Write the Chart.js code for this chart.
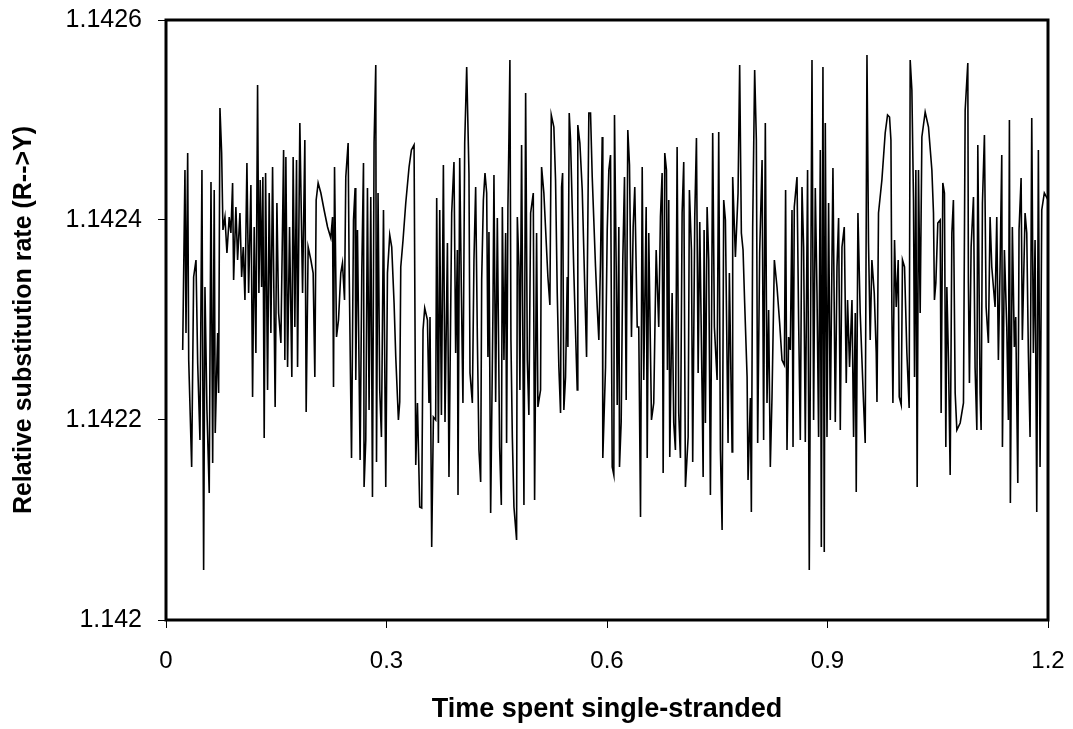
<!DOCTYPE html>
<html>
<head>
<meta charset="utf-8">
<script src="https://cdn.jsdelivr.net/npm/chart.js@4.4.1/dist/chart.umd.min.js"></script>
<style>
  html, body { margin: 0; padding: 0; background: #fff; }
  canvas { display: block; }
</style>
</head>
<body>
<canvas id="rateChart" width="1073" height="729"></canvas>
<script>
// Time spent single-stranded (x)
const timeSpent = [
  0.0227, 0.0258, 0.0272, 0.0295, 0.0309, 0.0349, 0.0376, 0.0408, 0.0431, 0.0462,
  0.0489, 0.0512, 0.0530, 0.0557, 0.0588, 0.0612, 0.0635, 0.0656, 0.0670, 0.0703,
  0.0716, 0.0734, 0.0757, 0.0775, 0.0802, 0.0829, 0.0860, 0.0883, 0.0906, 0.0920,
  0.0951, 0.0974, 0.1006, 0.1029, 0.1051, 0.1074, 0.1101, 0.1124, 0.1155, 0.1178,
  0.1200, 0.1223, 0.1246, 0.1264, 0.1282, 0.1301, 0.1318, 0.1336, 0.1355, 0.1382,
  0.1404, 0.1427, 0.1450, 0.1468, 0.1485, 0.1509, 0.1532, 0.1563, 0.1600, 0.1617,
  0.1631, 0.1654, 0.1681, 0.1712, 0.1730, 0.1753, 0.1776, 0.1790, 0.1821, 0.1858,
  0.1889, 0.1907, 0.1934, 0.1971, 0.2002, 0.2025, 0.2043, 0.2070, 0.2107, 0.2151,
  0.2198, 0.2242, 0.2266, 0.2279, 0.2293, 0.2320, 0.2347, 0.2378, 0.2401, 0.2429,
  0.2446, 0.2478, 0.2491, 0.2524, 0.2551, 0.2573, 0.2582, 0.2605, 0.2641, 0.2664,
  0.2687, 0.2695, 0.2718, 0.2741, 0.2763, 0.2786, 0.2809, 0.2831, 0.2854, 0.2864,
  0.2885, 0.2908, 0.2931, 0.2959, 0.2990, 0.3013, 0.3044, 0.3071, 0.3103, 0.3126,
  0.3162, 0.3180, 0.3194, 0.3225, 0.3262, 0.3307, 0.3339, 0.3375, 0.3398, 0.3421,
  0.3452, 0.3479, 0.3497, 0.3520, 0.3557, 0.3578, 0.3592, 0.3615, 0.3638, 0.3669,
  0.3683, 0.3706, 0.3724, 0.3747, 0.3774, 0.3796, 0.3829, 0.3850, 0.3887, 0.3918,
  0.3941, 0.3964, 0.3973, 0.3996, 0.4019, 0.4040, 0.4064, 0.4091, 0.4122, 0.4136,
  0.4168, 0.4190, 0.4213, 0.4236, 0.4258, 0.4281, 0.4295, 0.4318, 0.4340, 0.4363,
  0.4380, 0.4394, 0.4417, 0.4448, 0.4462, 0.4485, 0.4508, 0.4539, 0.4562, 0.4576,
  0.4598, 0.4621, 0.4634, 0.4652, 0.4666, 0.4679, 0.4693, 0.4712, 0.4734, 0.4770,
  0.4780, 0.4802, 0.4815, 0.4838, 0.4870, 0.4893, 0.4916, 0.4937, 0.4961, 0.4997,
  0.5015, 0.5042, 0.5060, 0.5096, 0.5110, 0.5141, 0.5196, 0.5223, 0.5242, 0.5277,
  0.5300, 0.5323, 0.5345, 0.5368, 0.5382, 0.5396, 0.5413, 0.5436, 0.5459, 0.5468,
  0.5486, 0.5504, 0.5549, 0.5595, 0.5603, 0.5631, 0.5663, 0.5722, 0.5753, 0.5776,
  0.5799, 0.5844, 0.5867, 0.5889, 0.5912, 0.5935, 0.5943, 0.5980, 0.6003, 0.6025,
  0.6048, 0.6071, 0.6093, 0.6102, 0.6125, 0.6139, 0.6161, 0.6170, 0.6193, 0.6215,
  0.6238, 0.6261, 0.6283, 0.6306, 0.6333, 0.6356, 0.6378, 0.6411, 0.6432, 0.6456,
  0.6479, 0.6500, 0.6533, 0.6547, 0.6568, 0.6605, 0.6636, 0.6669, 0.6704, 0.6727,
  0.6750, 0.6764, 0.6786, 0.6809, 0.6822, 0.6840, 0.6854, 0.6886, 0.6908, 0.6931,
  0.6954, 0.6976, 0.6999, 0.7022, 0.7044, 0.7067, 0.7104, 0.7121, 0.7149, 0.7166,
  0.7194, 0.7217, 0.7240, 0.7262, 0.7294, 0.7308, 0.7321, 0.7339, 0.7362, 0.7384,
  0.7407, 0.7420, 0.7438, 0.7461, 0.7498, 0.7520, 0.7543, 0.7566, 0.7588, 0.7611,
  0.7647, 0.7665, 0.7702, 0.7710, 0.7747, 0.7783, 0.7805, 0.7828, 0.7851, 0.7873,
  0.7906, 0.7919, 0.7951, 0.7964, 0.7982, 0.8009, 0.8032, 0.8050, 0.8077, 0.8110,
  0.8131, 0.8154, 0.8177, 0.8199, 0.8222, 0.8245, 0.8277, 0.8313, 0.8349, 0.8381,
  0.8413, 0.8430, 0.8449, 0.8471, 0.8494, 0.8517, 0.8531, 0.8548, 0.8585, 0.8607,
  0.8630, 0.8653, 0.8675, 0.8698, 0.8729, 0.8752, 0.8789, 0.8811, 0.8834, 0.8857,
  0.8879, 0.8902, 0.8916, 0.8938, 0.8956, 0.8970, 0.8993, 0.9015, 0.9038, 0.9074,
  0.9106, 0.9129, 0.9151, 0.9174, 0.9197, 0.9228, 0.9255, 0.9273, 0.9300, 0.9333,
  0.9355, 0.9378, 0.9391, 0.9414, 0.9445, 0.9490, 0.9513, 0.9537, 0.9558, 0.9581,
  0.9604, 0.9636, 0.9663, 0.9673, 0.9694, 0.9740, 0.9785, 0.9817, 0.9844, 0.9863,
  0.9876, 0.9890, 0.9912, 0.9935, 0.9962, 0.9976, 1.0003, 1.0020, 1.0048, 1.0080,
  1.0111, 1.0125, 1.0148, 1.0170, 1.0184, 1.0202, 1.0220, 1.0238, 1.0261, 1.0284,
  1.0329, 1.0374, 1.0420, 1.0442, 1.0455, 1.0474, 1.0501, 1.0533, 1.0546, 1.0569,
  1.0591, 1.0610, 1.0624, 1.0646, 1.0669, 1.0692, 1.0713, 1.0737, 1.0760, 1.0805,
  1.0850, 1.0873, 1.0909, 1.0917, 1.0931, 1.0954, 1.0986, 1.1008, 1.1032, 1.1045,
  1.1076, 1.1090, 1.1108, 1.1135, 1.1158, 1.1189, 1.1212, 1.1235, 1.1280, 1.1303,
  1.1325, 1.1348, 1.1371, 1.1380, 1.1407, 1.1439, 1.1461, 1.1475, 1.1488, 1.1515,
  1.1542, 1.1561, 1.1589, 1.1606, 1.1634, 1.1651, 1.1688, 1.1711, 1.1733, 1.1756,
  1.1779, 1.1801, 1.1824, 1.1847, 1.1869, 1.1892, 1.1915, 1.1950, 1.2000
];

// Relative substitution rate R-->Y (y)
const relRate = [
  1.14227, 1.14245, 1.142287, 1.142467, 1.14226, 1.142153, 1.142343, 1.14236, 1.142257, 1.14218,
  1.14245, 1.14205, 1.142333, 1.14221, 1.142127, 1.142438, 1.142157, 1.14243, 1.142187, 1.142287,
  1.142227, 1.142512, 1.142467, 1.14239, 1.142403, 1.142367, 1.142403, 1.142387, 1.142437, 1.14234,
  1.142413, 1.14236, 1.142407, 1.142343, 1.142373, 1.14232, 1.142457, 1.142327, 1.142435, 1.142223,
  1.142393, 1.142267, 1.142535, 1.142327, 1.14244, 1.142333, 1.142443, 1.142182, 1.142447, 1.14223,
  1.142427, 1.142287, 1.142453, 1.142327, 1.142213, 1.142417, 1.142307, 1.142277, 1.14247, 1.14226,
  1.142463, 1.142253, 1.142393, 1.142243, 1.142463, 1.142293, 1.14246, 1.142253, 1.142497, 1.142327,
  1.14248, 1.142208, 1.142373, 1.14236, 1.142347, 1.142243, 1.14242, 1.142437, 1.142427, 1.14241,
  1.142393, 1.142382, 1.142403, 1.142233, 1.142453, 1.142283, 1.1423, 1.142347, 1.142357, 1.14232,
  1.142443, 1.142477, 1.142357, 1.142162, 1.1424, 1.142432, 1.14224, 1.14239, 1.14216, 1.14235,
  1.142457, 1.142133, 1.14218, 1.142432, 1.14221, 1.142423, 1.142123, 1.142477, 1.142555, 1.142158,
  1.142427, 1.14223, 1.142183, 1.14241, 1.142133, 1.142347, 1.142385, 1.142373, 1.142317, 1.142263,
  1.1422, 1.142218, 1.142353, 1.14238, 1.142417, 1.142453, 1.14247, 1.142475, 1.142155, 1.142217,
  1.142113, 1.142112, 1.14229, 1.142312, 1.1423, 1.142217, 1.142303, 1.142073, 1.142203, 1.1422,
  1.142422, 1.142177, 1.14241, 1.142205, 1.142455, 1.142198, 1.142377, 1.142143, 1.142407, 1.142458,
  1.142267, 1.14237, 1.142125, 1.142462, 1.142327, 1.142217, 1.142477, 1.142553, 1.142447, 1.142247,
  1.142217, 1.14236, 1.142433, 1.142283, 1.14217, 1.142138, 1.14234, 1.14242, 1.142447, 1.142427,
  1.142263, 1.142388, 1.142107, 1.142307, 1.142445, 1.142218, 1.142402, 1.142173, 1.142115, 1.142413,
  1.14226, 1.142387, 1.142177, 1.142413, 1.142483, 1.14256, 1.14228, 1.142183, 1.142113, 1.14208,
  1.142403, 1.142353, 1.14223, 1.142475, 1.142115, 1.142527, 1.14226, 1.142205, 1.142407, 1.142427,
  1.14212, 1.142387, 1.142213, 1.14223, 1.142453, 1.142427, 1.142343, 1.142315, 1.142505, 1.142493,
  1.14244, 1.142327, 1.142253, 1.142207, 1.142433, 1.142447, 1.14221, 1.142243, 1.142343, 1.142273,
  1.142507, 1.14248, 1.142347, 1.14223, 1.142495, 1.142477, 1.14243, 1.142263, 1.142507, 1.142507,
  1.142443, 1.142353, 1.142313, 1.14228, 1.14236, 1.142483, 1.142162, 1.142253, 1.14239, 1.14245,
  1.142465, 1.142153, 1.142145, 1.142505, 1.142353, 1.142215, 1.142393, 1.142153, 1.142198, 1.14236,
  1.142443, 1.14222, 1.14249, 1.142455, 1.142283, 1.142393, 1.142433, 1.142293, 1.142293, 1.142103,
  1.142453, 1.14224, 1.142413, 1.142162, 1.142387, 1.1422, 1.142217, 1.14237, 1.142293, 1.142403,
  1.142447, 1.142147, 1.142467, 1.14245, 1.14225, 1.14242, 1.142163, 1.142327, 1.142197, 1.14217,
  1.142473, 1.142207, 1.142162, 1.142407, 1.142458, 1.142133, 1.142183, 1.14243, 1.14237, 1.142158,
  1.142403, 1.142482, 1.142247, 1.142398, 1.142227, 1.142143, 1.14239, 1.142197, 1.142413, 1.14236,
  1.142125, 1.142267, 1.142487, 1.142293, 1.14224, 1.142488, 1.14217, 1.14209, 1.14242, 1.1424,
  1.142177, 1.142347, 1.142168, 1.142443, 1.142363, 1.142427, 1.142555, 1.142387, 1.14237, 1.142317,
  1.142243, 1.14214, 1.142222, 1.142108, 1.142393, 1.14255, 1.14248, 1.142177, 1.142367, 1.14246,
  1.14218, 1.142497, 1.142217, 1.14231, 1.142153, 1.142223, 1.14236, 1.142333, 1.142297, 1.14226,
  1.142255, 1.14243, 1.14217, 1.142283, 1.14227, 1.14241, 1.142173, 1.142413, 1.142443, 1.1423,
  1.14218, 1.142433, 1.142373, 1.142178, 1.14245, 1.14205, 1.14256, 1.1422, 1.142432, 1.142327,
  1.142183, 1.14247, 1.142073, 1.142553, 1.142068, 1.142497, 1.142183, 1.142417, 1.1422, 1.142452,
  1.142198, 1.142353, 1.142402, 1.14219, 1.142373, 1.142393, 1.142237, 1.14232, 1.142253, 1.14232,
  1.142183, 1.142307, 1.142128, 1.142407, 1.142307, 1.142218, 1.142177, 1.142565, 1.142377, 1.14228,
  1.14236, 1.142327, 1.142267, 1.142218, 1.142407, 1.14244, 1.142487, 1.142505, 1.142503, 1.14248,
  1.142307, 1.142217, 1.14238, 1.142313, 1.14236, 1.142223, 1.142215, 1.14236, 1.142353, 1.142267,
  1.142212, 1.14256, 1.14253, 1.14242, 1.142243, 1.14245, 1.142133, 1.14245, 1.142307, 1.142483,
  1.142508, 1.142493, 1.14245, 1.142407, 1.14232, 1.142337, 1.142397, 1.1424, 1.142207, 1.142437,
  1.142427, 1.142173, 1.142333, 1.14226, 1.142145, 1.142387, 1.14242, 1.142227, 1.14219, 1.142197,
  1.142217, 1.14251, 1.142557, 1.142337, 1.142237, 1.142373, 1.142423, 1.142252, 1.14219, 1.142475,
  1.142227, 1.14219, 1.142417, 1.142485, 1.142313, 1.142277, 1.142403, 1.142353, 1.142313, 1.142403,
  1.14226, 1.142353, 1.142465, 1.142173, 1.14237, 1.142293, 1.1422, 1.1425, 1.142117, 1.142393,
  1.142273, 1.142303, 1.142137, 1.14239, 1.142442, 1.14228, 1.142407, 1.142387, 1.142267, 1.142183,
  1.142502, 1.142267, 1.14238, 1.142108, 1.14247, 1.142153, 1.14241, 1.142427, 1.14242
];

// Tick labels
const xTicks = [0, 0.3, 0.6, 0.9, 1.2];
const yTicks = [1.142, 1.1422, 1.1424, 1.1426];

const xTitle = "Time spent single-stranded";
const yTitle = "Relative substitution rate (R-->Y)";

const points = timeSpent.map((t, i) => ({ x: t, y: relRate[i] }));

// Black frame round the plot area
const frame = {
  id: "frame",
  afterDraw(chart) {
    const { ctx, chartArea: a } = chart;
    ctx.save();
    ctx.strokeStyle = "#000";
    ctx.lineWidth = 3;
    ctx.strokeRect(a.left, a.top, a.right - a.left, a.bottom - a.top);
    ctx.restore();
  },
};

const family = "'Liberation Sans', Arial, sans-serif";

new Chart(document.getElementById("rateChart"), {
  type: "line",
  data: {
    datasets: [
      {
        data: points,
        borderColor: "#000",
        borderWidth: 1.6,
        pointRadius: 0,
        tension: 0,
        fill: false,
      },
    ],
  },
  options: {
    responsive: false,
    animation: false,
    layout: { padding: { left: 0, right: 25, top: 20, bottom: 0 } },
    plugins: { legend: { display: false }, tooltip: { enabled: false } },
    scales: {
      x: {
        type: "linear",
        min: 0,
        max: 1.2,
        afterBuildTicks: (scale) => {
          scale.ticks = xTicks.map((v) => ({ value: v }));
        },
        afterFit: (scale) => {
          scale.height = 109;
          scale.paddingLeft = 0;
          scale.paddingRight = 0;
        },
        ticks: {
          color: "#000",
          font: { family, size: 24 },
          padding: 19,
          maxRotation: 0,
          callback: (v) => String(Number(v.toFixed(1))),
        },
        grid: { drawOnChartArea: false, color: "#000", tickLength: 8, lineWidth: 1 },
        border: { display: false },
        title: {
          display: true,
          text: xTitle,
          color: "#000",
          font: { family, size: 27, weight: "bold" },
          padding: { top: 0, bottom: 3 },
        },
      },
      y: {
        min: 1.142,
        max: 1.1426,
        afterBuildTicks: (scale) => {
          scale.ticks = yTicks.map((v) => ({ value: v }));
        },
        afterFit: (scale) => {
          scale.width = 166;
          scale.paddingTop = 0;
          scale.paddingBottom = 0;
        },
        ticks: {
          color: "#000",
          font: { family, size: 25 },
          padding: 16,
          callback: (v) => String(Number(v.toFixed(4))),
        },
        grid: { drawOnChartArea: false, color: "#000", tickLength: 8, lineWidth: 1 },
        border: { display: false },
        title: {
          display: true,
          text: yTitle,
          color: "#000",
          font: { family, size: 25, weight: "bold" },
          padding: { top: 9, bottom: 0 },
        },
      },
    },
  },
  plugins: [frame],
});
</script>
</body>
</html>
